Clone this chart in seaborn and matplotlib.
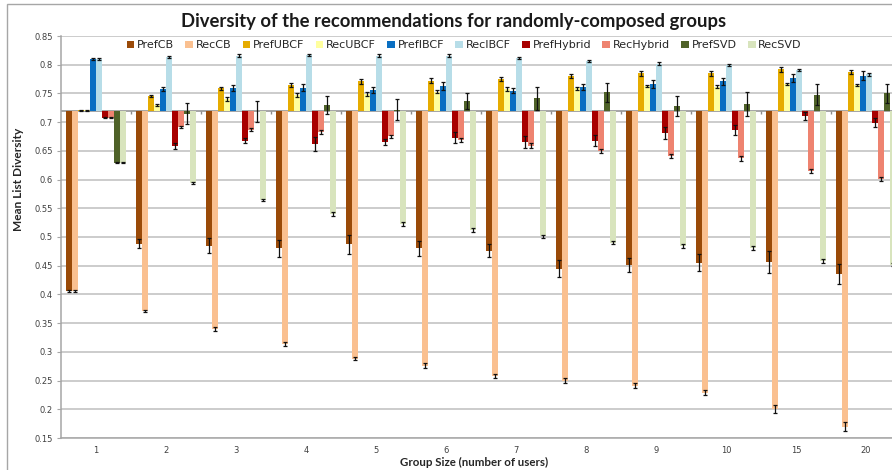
import numpy as np
import pandas as pd
import matplotlib
matplotlib.use("Agg")
import matplotlib.pyplot as plt
import matplotlib.ticker as mticker
from matplotlib.patches import Rectangle, Patch
import seaborn as sns

# group sizes (x categories)
groups = ['1', '2', '3', '4', '5', '6', '7', '8', '9', '10', '15', '20']

series = ['PrefCB', 'RecCB', 'PrefUBCF', 'RecUBCF', 'PrefIBCF', 'RecIBCF',
          'PrefHybrid', 'RecHybrid', 'PrefSVD', 'RecSVD']

# mean list diversity per series
pref_cb = [0.406, 0.488, 0.485, 0.480, 0.487, 0.480, 0.476, 0.445, 0.451, 0.455, 0.456, 0.436]
rec_cb = [0.406, 0.371, 0.340, 0.314, 0.288, 0.276, 0.258, 0.250, 0.241, 0.229, 0.200, 0.170]
pref_ubcf = [0.721, 0.746, 0.759, 0.765, 0.771, 0.772, 0.775, 0.780, 0.785, 0.785, 0.792, 0.787]
rec_ubcf = [0.721, 0.730, 0.740, 0.747, 0.749, 0.753, 0.758, 0.759, 0.763, 0.762, 0.766, 0.765]
pref_ibcf = [0.810, 0.758, 0.760, 0.760, 0.756, 0.763, 0.755, 0.761, 0.766, 0.771, 0.777, 0.781]
rec_ibcf = [0.810, 0.813, 0.816, 0.817, 0.816, 0.816, 0.812, 0.806, 0.802, 0.800, 0.791, 0.783]
pref_hybrid = [0.708, 0.658, 0.668, 0.662, 0.665, 0.673, 0.665, 0.668, 0.681, 0.686, 0.711, 0.699]
rec_hybrid = [0.708, 0.691, 0.687, 0.683, 0.675, 0.669, 0.659, 0.650, 0.641, 0.637, 0.615, 0.601]
pref_svd = [0.629, 0.715, 0.719, 0.730, 0.722, 0.737, 0.742, 0.752, 0.728, 0.732, 0.748, 0.750]
rec_svd = [0.629, 0.594, 0.565, 0.540, 0.523, 0.512, 0.501, 0.490, 0.484, 0.481, 0.458, 0.452]

# error bar half-widths
err_pref_cb = [0.001, 0.008, 0.013, 0.015, 0.016, 0.013, 0.011, 0.015, 0.012, 0.015, 0.019, 0.017]
err_rec_cb = [0.001, 0.002, 0.003, 0.003, 0.003, 0.004, 0.004, 0.004, 0.004, 0.004, 0.007, 0.007]
err_pref_ubcf = [0.001, 0.002, 0.003, 0.004, 0.004, 0.004, 0.004, 0.004, 0.004, 0.004, 0.004, 0.004]
err_rec_ubcf = [0.001, 0.002, 0.003, 0.003, 0.003, 0.003, 0.003, 0.003, 0.002, 0.002, 0.002, 0.002]
err_pref_ibcf = [0.001, 0.003, 0.005, 0.006, 0.005, 0.007, 0.005, 0.005, 0.007, 0.006, 0.007, 0.008]
err_rec_ibcf = [0.001, 0.002, 0.002, 0.002, 0.002, 0.002, 0.002, 0.002, 0.002, 0.002, 0.002, 0.003]
err_pref_hybrid = [0.001, 0.005, 0.005, 0.012, 0.005, 0.009, 0.010, 0.009, 0.011, 0.009, 0.007, 0.008]
err_rec_hybrid = [0.001, 0.002, 0.002, 0.003, 0.003, 0.004, 0.004, 0.004, 0.004, 0.004, 0.004, 0.004]
err_pref_svd = [0.001, 0.019, 0.018, 0.015, 0.018, 0.014, 0.020, 0.017, 0.018, 0.021, 0.018, 0.017]
err_rec_svd = [0.001, 0.002, 0.002, 0.003, 0.003, 0.003, 0.003, 0.003, 0.003, 0.003, 0.003, 0.003]

colors = ['#9A4A08', '#FAC090', '#E6AC00', '#FFFF9E', '#0A6FC2', '#B7DDE8',
          '#A80000', '#EE8370', '#4F6228', '#D8E4BD']

BASE = 0.72


def build_frame():
    values = [pref_cb, rec_cb, pref_ubcf, rec_ubcf, pref_ibcf, rec_ibcf,
              pref_hybrid, rec_hybrid, pref_svd, rec_svd]
    errors = [err_pref_cb, err_rec_cb, err_pref_ubcf, err_rec_ubcf, err_pref_ibcf,
              err_rec_ibcf, err_pref_hybrid, err_rec_hybrid, err_pref_svd, err_rec_svd]
    rows = []
    for name, vals, errs in zip(series, values, errors):
        for g, v, e in zip(groups, vals, errs):
            rows.append({'group': g, 'series': name, 'value': v, 'err': e})
    df = pd.DataFrame(rows)
    # bars hang from the 0.72 crossing line
    df['delta'] = df['value'] - BASE
    return df


def main():
    df = build_frame()

    sns.set_theme(style='white')
    plt.rcParams['font.family'] = ['DejaVu Sans']

    fig = plt.figure(figsize=(8.92, 4.70), dpi=100)
    ax = fig.add_axes([61 / 892, 32 / 470, 840 / 892, 402 / 470])

    sns.barplot(data=df, x='group', y='delta', hue='series', order=groups,
                hue_order=series, palette=colors, saturation=1, width=0.857,
                errorbar=None, bottom=BASE, linewidth=0, legend=False, ax=ax, zorder=2)

    # error bars at the centre of each bar
    for name, cont in zip(series, ax.containers):
        sub = df[df['series'] == name].set_index('group').loc[groups]
        xs = [b.get_x() + b.get_width() / 2 for b in cont]
        ax.errorbar(xs, sub['value'], yerr=sub['err'], fmt='none', ecolor='#111111',
                    elinewidth=0.9, capsize=1.5, capthick=0.9, zorder=4)

    ax.set_ylim(0.15, 0.85)
    ax.set_xlim(-0.5, len(groups) - 0.5)
    ax.yaxis.set_major_locator(mticker.MultipleLocator(0.05))
    ax.yaxis.set_major_formatter(mticker.FuncFormatter(lambda v, p: f'{v:.2f}'.rstrip('0')))
    ax.grid(axis='y', color='#BEBEBE', linewidth=1.1)
    ax.set_axisbelow(True)

    # horizontal axis crossing at 0.72 with group separators
    ax.axhline(BASE, color='#8C8C8C', linewidth=1.1, zorder=1.5)
    ax.vlines(np.arange(len(groups) - 1) + 0.5, BASE - 0.005, BASE,
              color='#8C8C8C', linewidth=1, zorder=1.5)

    for side in ['top', 'right']:
        ax.spines[side].set_visible(False)
    for side in ['left', 'bottom']:
        ax.spines[side].set_color('#A6A6A6')
        ax.spines[side].set_linewidth(1.1)

    ax.tick_params(axis='y', labelsize=6, colors='#404040', length=3, width=0.8,
                   left=True, color='#A6A6A6', pad=3)
    ax.tick_params(axis='x', labelsize=6, colors='#404040', length=0, pad=6)
    ax.set_xlabel('')
    ax.set_ylabel('')

    handles = [Patch(facecolor=c, edgecolor='none') for c in colors]
    ax.legend(handles, series, loc='upper center', bbox_to_anchor=(0.48, 1.014), ncol=10,
              frameon=False, fontsize=8, handlelength=0.7, handleheight=0.7,
              handletextpad=0.25, columnspacing=1.0, labelcolor='#262626')

    fig.text(454 / 892, 1 - 22 / 470,
             'Diversity of the recommendations for randomly-composed groups',
             ha='center', va='center', fontsize=13.3, fontweight='bold',
             family='Lato', color='#1A1A1A')
    fig.text(19 / 892, 1 - 179 / 470, 'Mean List Diversity', rotation=90,
             ha='center', va='center', fontsize=8.6, fontweight='bold', family='Lato')
    fig.text(474 / 892, 1 - 462 / 470, 'Group Size (number of users)',
             ha='center', va='center', fontsize=8.3, fontweight='bold', family='Lato')

    # outer chart frame (right edge falls outside the crop)
    fig.add_artist(Rectangle((7 / 892, -0.1), 1.5, 1.1 - 4 / 470, transform=fig.transFigure,
                             fill=False, edgecolor='#A6A6A6', linewidth=1))

    fig.savefig('out.png', dpi=100)


if __name__ == "__main__":
    main()
